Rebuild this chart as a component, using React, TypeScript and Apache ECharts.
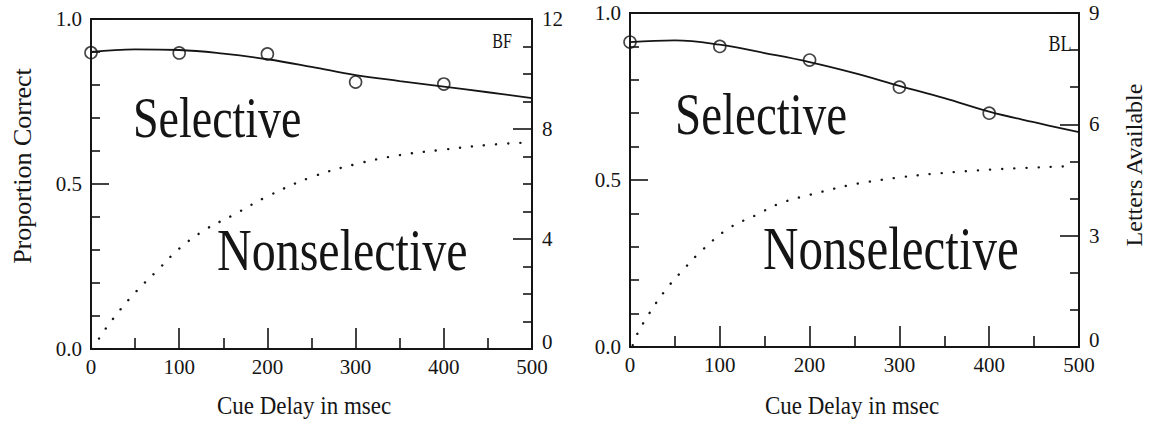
import React, { useEffect, useRef } from "react";
import * as echarts from "echarts";

// Cue delay (msec) categories for observations
const obsDelays = [0, 100, 200, 300, 400];
// Observed proportion correct (circles)
const bfObserved = [0.898, 0.897, 0.894, 0.809, 0.803];
const blObserved = [0.913, 0.9, 0.859, 0.778, 0.7];

// Fitted selective curves (proportion correct)
const fitDelays = [0, 50, 100, 150, 200, 250, 300, 350, 400, 450, 500];
const bfFit = [0.9, 0.908, 0.906, 0.895, 0.878, 0.855, 0.83, 0.812, 0.795, 0.778, 0.76];
const blFit = [0.913, 0.918, 0.905, 0.88, 0.853, 0.82, 0.782, 0.745, 0.705, 0.673, 0.643];

// Nonselective (letters available) curves
const bfNonDelays = [2, 8, 25, 50, 75, 100, 130, 160, 200, 250, 300, 350, 400, 450, 490];
const bfNonLetters = [0, 0.33, 1.1, 2.05, 2.85, 3.65, 4.35, 4.85, 5.55, 6.25, 6.72, 7.05, 7.25, 7.42, 7.5];
const blNonDelays = [3, 7, 20, 40, 60, 80, 110, 140, 165, 200, 265, 370, 490];
const blNonLetters = [0.05, 0.3, 0.85, 1.55, 2.1, 2.6, 3.2, 3.55, 3.85, 4.1, 4.45, 4.73, 4.87];

// Axis ranges
const xMax = 500;
const bfLettersMax = 12;
const blLettersMax = 9;

const zip = (xs: number[], ys: number[]) => xs.map((x, i) => [x, ys[i]]);

const FONT = '"Liberation Serif", "Times New Roman", serif';
const INK = "#151515";

export default function App() {
  const ref = useRef<HTMLDivElement>(null);

  useEffect(() => {
    if (!ref.current) return;
    const chart = echarts.init(ref.current, undefined, { renderer: "svg" });

    const axisLine = { show: true, lineStyle: { color: INK, width: 2 } };
    const labelStyle = { color: INK, fontFamily: FONT, fontSize: 21 };

    const xAxisBase = (gridIndex: number) => ({
      type: "value",
      gridIndex,
      min: 0,
      max: xMax,
      interval: 100,
      axisLine: { ...axisLine, onZero: false },
      axisTick: { show: true, inside: true, length: 21, lineStyle: { color: INK, width: 1.6 } },
      minorTick: { show: true, splitNumber: 2, length: 11, lineStyle: { color: INK, width: 1.6 } },
      splitLine: { show: false },
      axisLabel: { ...labelStyle, margin: 7 },
    });

    const leftY = (gridIndex: number) => ({
      type: "value",
      gridIndex,
      position: "left",
      min: 0,
      max: 1,
      interval: 0.5,
      axisLine,
      axisTick: { show: true, inside: true, length: 18, lineStyle: { color: INK, width: 1.6 } },
      minorTick: { show: true, splitNumber: 5, length: 9, lineStyle: { color: INK, width: 1.6 } },
      splitLine: { show: false },
      axisLabel: { ...labelStyle, margin: 9, formatter: (v: number) => v.toFixed(1) },
    });

    const rightY = (gridIndex: number, max: number, interval: number) => ({
      type: "value",
      gridIndex,
      position: "right",
      min: 0,
      max,
      interval,
      axisLine,
      axisTick: { show: true, inside: true, length: 19, lineStyle: { color: INK, width: 1.6 } },
      minorTick: { show: true, splitNumber: interval, length: 9, lineStyle: { color: INK, width: 1.6 } },
      splitLine: { show: false },
      axisLabel: {
        ...labelStyle,
        margin: 10,
        formatter: (v: number) => (v === 0 ? "{z|0}" : String(v)),
        rich: { z: { ...labelStyle, padding: [0, 0, 14, 0] } },
      },
    });

    const fitSeries = (xi: number, yi: number, data: number[][]) => ({
      type: "line",
      xAxisIndex: xi,
      yAxisIndex: yi,
      data,
      smooth: 0.4,
      symbol: "none",
      lineStyle: { color: INK, width: 1.8 },
    });

    const obsSeries = (xi: number, yi: number, data: number[][]) => ({
      type: "scatter",
      xAxisIndex: xi,
      yAxisIndex: yi,
      data,
      symbol: "circle",
      symbolSize: 12,
      itemStyle: { color: "rgba(0,0,0,0)", borderColor: INK, borderWidth: 1.6 },
    });

    const dotSeries = (xi: number, yi: number, data: number[][]) => ({
      type: "line",
      xAxisIndex: xi,
      yAxisIndex: yi,
      data,
      smooth: 0.4,
      symbol: "none",
      lineStyle: { color: INK, width: 2.4, type: [0.1, 12], cap: "round" },
    });

    const text = (
      t: string,
      x: number,
      y: number,
      size: number,
      align: string,
      scaleY = 1,
      rotation = 0
    ) => ({
      type: "text",
      x,
      y,
      rotation,
      scaleX: 1,
      scaleY,
      silent: true,
      style: {
        text: t,
        font: `${size}px ${FONT}`,
        fill: INK,
        align,
        verticalAlign: "middle",
        textAlign: align,
        textVerticalAlign: "middle",
      },
    });

    chart.setOption({
      animation: false,
      backgroundColor: "#ffffff",
      grid: [
        { left: 91, top: 19, width: 441, height: 330, show: true, borderColor: INK, borderWidth: 2, backgroundColor: "transparent" },
        { left: 630, top: 13, width: 449, height: 334, show: true, borderColor: INK, borderWidth: 2, backgroundColor: "transparent" },
      ],
      xAxis: [xAxisBase(0), xAxisBase(1)],
      yAxis: [leftY(0), rightY(0, bfLettersMax, 4), leftY(1), rightY(1, blLettersMax, 3)],
      series: [
        fitSeries(0, 0, zip(fitDelays, bfFit)),
        obsSeries(0, 0, zip(obsDelays, bfObserved)),
        dotSeries(0, 1, zip(bfNonDelays, bfNonLetters)),
        fitSeries(1, 2, zip(fitDelays, blFit)),
        obsSeries(1, 2, zip(obsDelays, blObserved)),
        dotSeries(1, 3, zip(blNonDelays, blNonLetters)),
      ],
      graphic: [
        text("Selective", 133, 118, 46, "left", 1.25),
        text("Nonselective", 217, 250, 48, "left", 1.25),
        text("Selective", 675, 115, 47, "left", 1.25),
        text("Nonselective", 763, 249, 49, "left", 1.25),
        text("BF", 502, 41, 16, "center", 1.35),
        text("BL", 1060, 43, 18, "center", 1.3),
        text("Cue Delay in msec", 304, 405, 23, "center", 1.1),
        text("Cue Delay in msec", 852, 405, 23, "center", 1.1),
        text("Proportion Correct", 22, 166, 26, "center", 1, Math.PI / 2),
        text("Letters Available", 1134, 165, 24, "center", 1, Math.PI / 2),
      ],
    });

    return () => chart.dispose();
  }, []);

  return (
    <div
      ref={ref}
      style={{ position: "fixed", left: 0, top: 0, width: 1152, height: 421, background: "#fff" }}
    />
  );
}
